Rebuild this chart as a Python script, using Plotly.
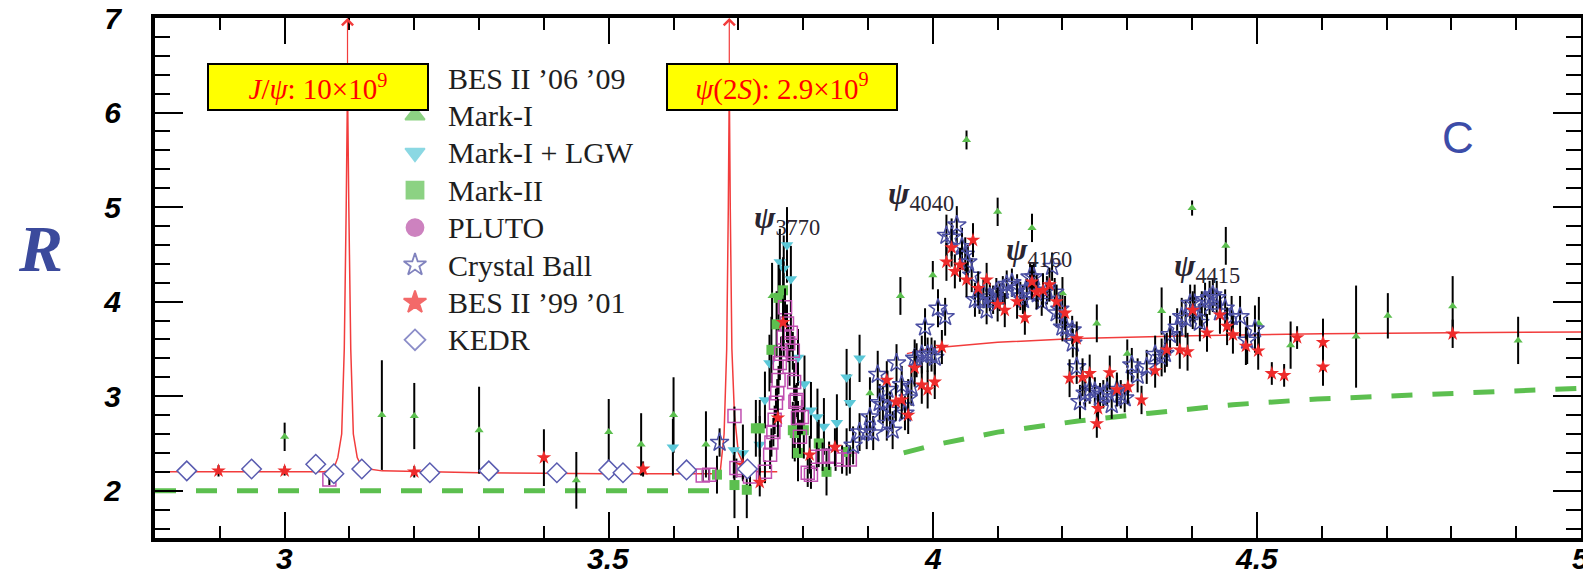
import plotly.graph_objects as go

# ---------------- data: R ratio vs centre-of-mass energy (GeV) ----------------
kedr_E = [2.849, 2.949, 3.048, 3.076, 3.119, 3.224, 3.315, 3.420, 3.500, 3.522, 3.620, 3.714]
kedr_R = [2.21, 2.23, 2.28, 2.18, 2.23, 2.19, 2.21, 2.19, 2.22, 2.19, 2.22, 2.23]
kedr_err = [0.05, 0.05, 0.06, 0.05, 0.05, 0.05, 0.05, 0.05, 0.05, 0.05, 0.05, 0.06]

mk1_E = [3.00, 3.15, 3.20, 3.30, 3.45, 3.50, 3.55, 3.60, 3.65, 3.752, 3.903, 3.95, 4.00, 4.052,
         4.10, 4.153, 4.20, 4.253, 4.30, 4.353, 4.40, 4.452, 4.503, 4.552, 4.653, 4.702, 4.802, 4.903]
mk1_R = [2.57, 2.80, 2.79, 2.64, 2.11, 2.62, 2.49, 2.80, 2.49, 4.06, 3.03, 4.06, 4.28, 5.71,
         4.95, 4.78, 4.09, 3.77, 3.45, 3.90, 4.99, 4.59, 3.77, 3.54, 3.63, 3.85, 3.95, 3.59]
mk1_err = [0.15, 0.58, 0.35, 0.46, 0.30, 0.35, 0.33, 0.40, 0.35, 0.35, 0.17, 0.20, 0.15, 0.10,
           0.15, 0.15, 0.17, 0.20, 0.15, 0.25, 0.08, 0.20, 0.28, 0.25, 0.54, 0.24, 0.32, 0.25]

lgw_E = [3.599, 3.693, 3.707, 3.733, 3.741, 3.748, 3.764, 3.770, 3.775, 3.781, 3.792, 3.802,
         3.812, 3.822, 3.832, 3.852, 3.867, 3.872, 3.887]
lgw_R = [2.46, 2.43, 2.40, 2.49, 2.96, 3.35, 4.42, 4.35, 4.60, 4.24, 3.41, 3.13,
         2.85, 2.78, 2.68, 2.72, 3.20, 2.93, 3.40]
lgw_err = [0.30, 0.30, 0.30, 0.30, 0.30, 0.30, 0.35, 0.35, 0.40, 0.35, 0.30, 0.30,
           0.30, 0.30, 0.30, 0.30, 0.30, 0.30, 0.25]

mk2_E = [3.667, 3.694, 3.713, 3.727, 3.733, 3.751, 3.759, 3.762, 3.769, 3.784, 3.787, 3.792,
         3.801, 3.824, 3.836, 3.867]
mk2_R = [2.17, 2.06, 2.01, 2.66, 2.66, 3.49, 3.76, 4.04, 4.12, 2.64, 2.61, 2.40,
         2.64, 2.50, 2.20, 2.41]
mk2_err = [0.20, 0.35, 0.30, 0.30, 0.30, 0.35, 0.35, 0.35, 0.35, 0.30, 0.30, 0.30,
           0.30, 0.25, 0.25, 0.25]

bes0609_E = [3.069, 3.645, 3.655, 3.694, 3.697, 3.707, 3.718, 3.741, 3.749, 3.751, 3.754, 3.756,
             3.758, 3.760, 3.762, 3.764, 3.766, 3.770, 3.772, 3.775, 3.777, 3.779, 3.781, 3.784,
             3.786, 3.788, 3.790, 3.792, 3.795, 3.798, 3.807, 3.812, 3.821, 3.830, 3.840, 3.850,
             3.860, 3.872]
bes0609_R = [2.12, 2.16, 2.17, 2.79, 2.24, 2.22, 2.15, 2.20, 2.38, 2.51, 2.62, 2.75,
             2.93, 3.03, 3.17, 3.35, 3.45, 3.62, 3.94, 3.77, 3.56, 3.31, 3.67, 3.48,
             3.15, 2.94, 2.96, 2.77, 2.57, 2.78, 2.19, 2.17, 2.36, 2.36, 2.37, 2.36,
             2.33, 2.33]
bes0609_err = [0.06, 0.06, 0.06, 0.10, 0.10, 0.10, 0.10, 0.12, 0.15, 0.15, 0.15, 0.15,
               0.15, 0.15, 0.15, 0.18, 0.18, 0.20, 0.20, 0.20, 0.20, 0.20, 0.20, 0.20,
               0.20, 0.18, 0.18, 0.18, 0.18, 0.18, 0.15, 0.15, 0.15, 0.15, 0.15, 0.15,
               0.15, 0.15]

cb_E = [3.671, 3.877, 3.887, 3.898, 3.903, 3.908, 3.915, 3.918, 3.923, 3.929,
        3.930, 3.934, 3.938, 3.944, 3.952, 3.957, 3.962, 3.967, 3.972, 3.975,
        3.983, 3.988, 3.992, 3.998, 4.003, 4.008, 4.019, 4.021, 4.029, 4.037,
        4.045, 4.050, 4.054, 4.060, 4.065, 4.072, 4.078, 4.083, 4.088, 4.093,
        4.098, 4.103, 4.108, 4.114, 4.122, 4.130, 4.135, 4.139, 4.145, 4.150,
        4.156, 4.162, 4.168, 4.176, 4.184, 4.188, 4.191, 4.196, 4.200, 4.206,
        4.215, 4.216, 4.222, 4.227, 4.235, 4.242, 4.250, 4.258, 4.263, 4.269,
        4.276, 4.284, 4.290, 4.296, 4.307, 4.316, 4.330, 4.343, 4.353, 4.358,
        4.366, 4.377, 4.384, 4.390, 4.397, 4.404, 4.412, 4.415, 4.420, 4.427,
        4.432, 4.438, 4.443, 4.451, 4.461, 4.474, 4.485, 4.497]
cb_R = [2.51, 2.48, 2.62, 2.62, 2.78, 2.61, 3.23, 2.93, 2.91, 2.71,
        3.07, 2.85, 2.64, 3.35, 3.12, 2.82, 2.98, 3.10, 3.40, 3.38,
        3.44, 3.73, 3.44, 3.44, 3.41, 3.93, 3.84, 4.70, 4.68, 4.81,
        4.58, 4.50, 4.42, 4.28, 4.02, 4.02, 4.08, 3.91, 4.05, 4.02,
        4.10, 4.05, 4.12, 4.18, 4.20, 4.14, 4.06, 4.02, 4.10, 4.26,
        4.26, 4.08, 4.00, 4.12, 4.37, 4.10, 3.88, 3.92, 3.73, 3.72,
        3.70, 3.56, 3.31, 2.94, 3.03, 3.07, 3.05, 2.99, 3.02, 3.05,
        2.91, 3.07, 3.02, 2.98, 3.33, 3.22, 3.31, 3.44, 3.41, 3.45,
        3.65, 3.73, 3.84, 3.82, 3.98, 3.98, 3.78, 3.91, 4.02, 4.04,
        4.07, 4.04, 3.89, 3.93, 3.84, 3.84, 3.59, 3.71]
cb_err = [0.15, 0.20, 0.20, 0.18, 0.20, 0.18, 0.25, 0.20, 0.20, 0.18,
          0.20, 0.20, 0.20, 0.20, 0.20, 0.18, 0.20, 0.20, 0.20, 0.18,
          0.20, 0.20, 0.18, 0.18, 0.18, 0.20, 0.20, 0.22, 0.20, 0.20,
          0.20, 0.18, 0.18, 0.18, 0.18, 0.15, 0.15, 0.15, 0.15, 0.15,
          0.15, 0.15, 0.15, 0.15, 0.15, 0.15, 0.15, 0.15, 0.15, 0.15,
          0.15, 0.15, 0.15, 0.15, 0.15, 0.15, 0.15, 0.15, 0.15, 0.15,
          0.15, 0.15, 0.18, 0.18, 0.15, 0.15, 0.15, 0.15, 0.15, 0.15,
          0.15, 0.15, 0.15, 0.15, 0.18, 0.18, 0.18, 0.20, 0.20, 0.20,
          0.20, 0.20, 0.20, 0.20, 0.20, 0.20, 0.20, 0.20, 0.18, 0.18,
          0.18, 0.18, 0.20, 0.20, 0.22, 0.22, 0.25, 0.25]

bes9901_E = [2.898, 3.000, 3.200, 3.400, 3.553, 3.707, 3.733, 3.761, 3.769, 3.810,
             3.849, 3.929, 3.943, 3.952, 3.962, 3.972, 3.983, 3.992, 4.003, 4.014,
             4.021, 4.029, 4.034, 4.042, 4.052, 4.062, 4.070, 4.083, 4.100, 4.111,
             4.130, 4.142, 4.153, 4.160, 4.170, 4.180, 4.191, 4.204, 4.211, 4.222,
             4.231, 4.242, 4.253, 4.255, 4.273, 4.284, 4.301, 4.322, 4.343, 4.361,
             4.381, 4.393, 4.401, 4.423, 4.443, 4.454, 4.463, 4.483, 4.502, 4.523,
             4.542, 4.562, 4.602, 4.602, 4.802]
bes9901_R = [2.21, 2.21, 2.20, 2.35, 2.23, 2.27, 2.09, 2.77, 3.78, 2.38,
             2.46, 3.17, 2.94, 2.96, 2.80, 3.30, 3.12, 3.07, 3.15, 3.52,
             4.42, 4.57, 4.32, 4.39, 4.23, 4.65, 4.14, 4.23, 3.97, 3.91,
             4.00, 3.83, 4.21, 4.10, 4.12, 4.18, 4.00, 3.88, 3.19, 3.61,
             3.20, 3.24, 2.71, 2.87, 3.25, 3.07, 3.10, 2.96, 3.27, 3.49,
             3.49, 3.47, 3.91, 3.67, 3.86, 3.74, 3.65, 3.53, 3.48, 3.24,
             3.22, 3.62, 3.57, 3.31, 3.66]
bes9901_err = [0.06, 0.05, 0.06, 0.30, 0.08, 0.15, 0.15, 0.20, 0.25, 0.20,
               0.20, 0.20, 0.20, 0.20, 0.20, 0.20, 0.20, 0.20, 0.18, 0.18,
               0.20, 0.20, 0.18, 0.18, 0.18, 0.18, 0.18, 0.18, 0.18, 0.18,
               0.18, 0.18, 0.18, 0.18, 0.18, 0.18, 0.18, 0.18, 0.20, 0.18,
               0.20, 0.20, 0.15, 0.15, 0.18, 0.18, 0.18, 0.15, 0.18, 0.18,
               0.20, 0.20, 0.20, 0.20, 0.20, 0.20, 0.20, 0.20, 0.20, 0.12,
               0.12, 0.12, 0.25, 0.20, 0.15]

# fitted R curve with the J/psi and psi(2S) resonances (gap where no fit is drawn)
fit_E = [2.80, 3.00, 3.06, 3.075, 3.082, 3.088, 3.092, 3.095, 3.097, 3.099, 3.102, 3.106,
         3.112, 3.12, 3.15, 3.30, 3.50, 3.66, 3.672, 3.678, 3.682, 3.6845, 3.686, 3.6875,
         3.690, 3.694, 3.700, 3.710, 3.730, 3.760, None,
         3.96, 4.00, 4.10, 4.22, 4.40, 4.60, 4.80, 5.02]
fit_R = [2.20, 2.20, 2.20, 2.22, 2.35, 2.60, 3.50, 5.00, 6.30, 5.00, 3.50, 2.60,
         2.35, 2.24, 2.21, 2.19, 2.18, 2.18, 2.20, 2.60, 3.50, 5.00, 6.30, 5.00,
         3.50, 2.80, 2.40, 2.25, 2.20, 2.20, None,
         3.45, 3.51, 3.57, 3.61, 3.64, 3.66, 3.67, 3.68]

# parton-model expectation (dashed)
pm_E = [2.80, 3.68, None, 3.955, 4.00, 4.10, 4.227, 4.335, 4.463, 4.593, 4.72, 4.849, 5.02]
pm_R = [2.00, 2.00, None, 2.40, 2.48, 2.62, 2.74, 2.82, 2.91, 2.97, 3.01, 3.05, 3.09]

# narrow resonances
res_E = [3.097, 3.686]
res_label = ["<i>J</i>/<i>ψ</i>: 10×10<sup>9</sup>", "<i>ψ</i>(2<i>S</i>): 2.9×10<sup>9</sup>"]

# broad charmonium states
psi_label = ["3770", "4040", "4160", "4415"]

x_ticks = [3, 3.5, 4, 4.5, 5]
x_ticktext = ["3", "3.5", "4", "4.5", "5"]
y_ticks = [2, 3, 4, 5, 6, 7]

legend_names = ["BES II ’06 ’09", "Mark-I", "Mark-I + LGW", "Mark-II", "PLUTO",
                "Crystal Ball", "BES II ’99 ’01", "KEDR"]

# ---------------- styling ----------------
GREEN = "#5cbf4f"
CYAN = "#5bc8d8"
MAGENTA = "#c04fb0"
PLUTO_C = "#b84ea5"
NAVY = "#4b4fa3"
RED = "#ee2b2b"
KEDR_C = "#5a5cb0"
FIT_C = "#f23c3c"

W, H = 1583, 577
PL, PR, PT, PB = 155, 1581, 18, 538


def px_x(px):
    return (px - PL) / (PR - PL)


def px_y(py):
    return (PB - py) / (PB - PT)


def err_bar(vals):
    return dict(type="data", array=vals, color="black", thickness=2, width=0)


fig = go.Figure()

fig.add_trace(go.Scatter(x=pm_E, y=pm_R, mode="lines", hoverinfo="skip",
                         line=dict(color=GREEN, width=5, dash="21px,20px")))
fig.add_trace(go.Scatter(x=fit_E, y=fit_R, mode="lines", hoverinfo="skip",
                         line=dict(color=FIT_C, width=1.5)))

fig.add_trace(go.Scatter(x=mk1_E, y=mk1_R, mode="markers", error_y=err_bar(mk1_err),
                         marker=dict(symbol="triangle-up", size=8, color=GREEN)))
fig.add_trace(go.Scatter(x=lgw_E, y=lgw_R, mode="markers", error_y=err_bar(lgw_err),
                         marker=dict(symbol="triangle-down", size=11, color=CYAN)))
fig.add_trace(go.Scatter(x=mk2_E, y=mk2_R, mode="markers", error_y=err_bar(mk2_err),
                         marker=dict(symbol="square", size=10, color=GREEN)))
fig.add_trace(go.Scatter(x=bes0609_E, y=bes0609_R, mode="markers", error_y=err_bar(bes0609_err),
                         marker=dict(symbol="square-open", size=13, color=MAGENTA,
                                     line=dict(width=1.5, color=MAGENTA))))
fig.add_trace(go.Scatter(x=cb_E, y=cb_R, mode="markers", error_y=err_bar(cb_err),
                         marker=dict(symbol="star-open", size=14, color=NAVY,
                                     line=dict(width=1.5, color=NAVY))))
fig.add_trace(go.Scatter(x=bes9901_E, y=bes9901_R, mode="markers", error_y=err_bar(bes9901_err),
                         marker=dict(symbol="star", size=11, color=RED)))
# KEDR diamonds are drawn hollow with a white interior so their short bars stay hidden
fig.add_trace(go.Scatter(x=kedr_E, y=kedr_R, mode="markers", error_y=err_bar(kedr_err),
                         marker=dict(symbol="diamond", size=15, color="white",
                                     line=dict(width=1.5, color=KEDR_C))))

# legend glyphs on a pixel-scaled overlay axis
leg_x = 415
leg_y0, leg_dy = 78, 37.4
leg_rows = [leg_y0 + i * leg_dy for i in range(len(legend_names))]
leg_symbols = ["square-open", "triangle-up", "triangle-down", "square", "circle",
               "star-open", "star", "diamond-open"]
leg_colors = ["rgba(0,0,0,0)", GREEN, CYAN, GREEN, PLUTO_C, NAVY, RED, KEDR_C]
leg_sizes = [1, 17, 17, 17, 17, 17, 17, 16]
fig.add_trace(go.Scatter(x=[leg_x] * (len(leg_rows) - 1), y=leg_rows[1:], xaxis="x2", yaxis="y2",
                         mode="markers", hoverinfo="skip", cliponaxis=False,
                         marker=dict(symbol=leg_symbols[1:], size=leg_sizes[1:], color=leg_colors[1:],
                                     line=dict(width=1.8, color=leg_colors[1:]))))

annotations = []
for name, yy in zip(legend_names, leg_rows):
    annotations.append(dict(x=px_x(446), y=px_y(yy), xref="paper", yref="paper", text=name,
                            showarrow=False, xanchor="left", yanchor="middle",
                            font=dict(family="Liberation Serif", size=30, color="#1e1e1e")))

# arrowheads marking the off-scale resonance peaks
for e in res_E:
    annotations.append(dict(x=e, y=7.0, ax=e, ay=6.3, xref="x", yref="y", axref="x", ayref="y",
                            text="", showarrow=True, arrowhead=4, arrowsize=1.8, arrowwidth=1.2,
                            arrowcolor=FIT_C, standoff=0))

# yellow labels of the resonance sample sizes
box_centres = [(318, 87, 218), (782, 87, 228)]
for txt, (cx, cy, bw) in zip(res_label, box_centres):
    annotations.append(dict(x=px_x(cx), y=px_y(cy), xref="paper", yref="paper", text=txt,
                            showarrow=False, xanchor="center", yanchor="middle",
                            width=bw, height=44, bgcolor="#ffff00", bordercolor="black",
                            borderwidth=2, borderpad=0,
                            font=dict(family="Liberation Serif", size=29, color="#ff0000")))

# psi state labels
psi_pos = [(752, 220), (886, 195), (1004, 252), (1172, 267)]
for lab, (lx, ly) in zip(psi_label, psi_pos):
    annotations.append(dict(x=px_x(lx), y=px_y(ly), xref="paper", yref="paper",
                            text="<b><i>ψ</i></b><sub>" + lab + "</sub>",
                            showarrow=False, xanchor="left", yanchor="middle",
                            font=dict(family="Liberation Serif", size=32, color="#2a2530")))

annotations.append(dict(x=px_x(40), y=px_y(248), xref="paper", yref="paper", text="<b><i>R</i></b>",
                        showarrow=False, xanchor="center", yanchor="middle",
                        font=dict(family="Liberation Serif", size=66, color="#3b4a9c")))
annotations.append(dict(x=px_x(1458), y=px_y(137), xref="paper", yref="paper", text="C",
                        showarrow=False, xanchor="center", yanchor="middle",
                        font=dict(family="Liberation Sans", size=44, color="#3c4ca8")))

tickfont = dict(family="Liberation Sans", size=30, color="black", weight="bold", style="italic")

# energy-axis labels sit just under the frame
for tv, tt in zip(x_ticks, x_ticktext):
    annotations.append(dict(x=tv, y=px_y(558), xref="x", yref="paper", text=tt,
                            showarrow=False, xanchor="center", yanchor="middle", font=tickfont))

fig.update_layout(
    width=W, height=H,
    margin=dict(l=PL, r=W - PR, t=PT, b=H - PB, pad=0),
    paper_bgcolor="white", plot_bgcolor="white",
    showlegend=False,
    template="none",
    annotations=annotations,
    xaxis=dict(range=[2.8, 5.0], tickmode="array", tickvals=x_ticks, showticklabels=False,
               ticks="inside", ticklen=26, tickwidth=2, tickcolor="black",
               showline=True, linewidth=4, linecolor="black", mirror="ticks",
               showgrid=False, zeroline=False, automargin=False,
               minor=dict(ticks="inside", ticklen=12, tickwidth=2, tickcolor="black",
                          dtick=0.1, tick0=0, showgrid=False)),
    yaxis=dict(range=[1.5, 7.0], tickmode="array", tickvals=y_ticks,
               ticks="inside", ticklen=28, tickwidth=2, tickcolor="black",
               showline=True, linewidth=4, linecolor="black", mirror="ticks",
               showgrid=False, zeroline=False, automargin=False, tickfont=tickfont,
               ticklabelstandoff=24,
               minor=dict(ticks="inside", ticklen=15, tickwidth=2, tickcolor="black",
                          dtick=0.2, tick0=0, showgrid=False)),
    xaxis2=dict(range=[PL, PR], overlaying="x", visible=False, fixedrange=True),
    yaxis2=dict(range=[PB, PT], overlaying="y", visible=False, fixedrange=True),
)

fig.write_html("out.html")
